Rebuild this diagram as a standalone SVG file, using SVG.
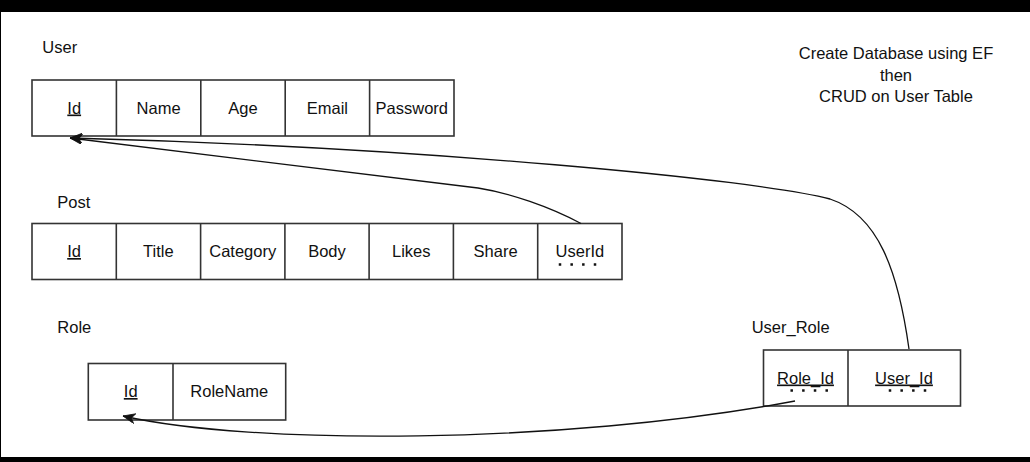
<svg xmlns="http://www.w3.org/2000/svg" width="1030" height="462" viewBox="0 0 1030 462">
<defs>
<style>
text{font-family:"Liberation Sans",Arial,Helvetica,sans-serif;font-size:16.5px;fill:#111;}
.c{text-anchor:middle;}
.u{text-decoration:underline;}
.cell{fill:#fff;stroke:#333;stroke-width:1.6;}
.div{stroke:#333;stroke-width:1.6;}
.edge{fill:none;stroke:#111;stroke-width:1.3;marker-end:url(#arrow);}
.line{fill:none;stroke:#111;stroke-width:1.3;}
.dots{stroke:#111;stroke-width:2.5;stroke-dasharray:2.5 9.17;}
</style>
<marker id="arrow" markerUnits="userSpaceOnUse" markerWidth="14" markerHeight="12" refX="12" refY="5" orient="auto" viewBox="0 0 14 12">
<path d="M0,0 L12,5 L0,10 L3.5,5 Z" fill="#111" stroke="#111" stroke-width="0.8"/>
</marker>
</defs>
<rect x="0" y="0" width="1030" height="462" fill="#fff"/>
<rect x="0" y="0" width="1030" height="12" fill="#000"/>
<rect x="0" y="457" width="1030" height="5" fill="#000"/>
<rect x="0" y="0" width="1" height="462" fill="#000"/>

<g id="user">
<text x="42.3" y="53.3">User</text>
<rect class="cell" x="32" y="80" width="422" height="56"/>
<line class="div" x1="116.4" y1="80" x2="116.4" y2="136"/>
<line class="div" x1="200.8" y1="80" x2="200.8" y2="136"/>
<line class="div" x1="285.2" y1="80" x2="285.2" y2="136"/>
<line class="div" x1="369.6" y1="80" x2="369.6" y2="136"/>
<text class="c u" x="74.2" y="113.5">Id</text>
<text class="c" x="158.6" y="113.5">Name</text>
<text class="c" x="243" y="113.5">Age</text>
<text class="c" x="327.4" y="113.5">Email</text>
<text class="c" x="411.8" y="113.5">Password</text>
</g>

<g id="post">
<text x="57.3" y="207.5">Post</text>
<rect class="cell" x="32" y="223.5" width="590" height="56"/>
<line class="div" x1="116.3" y1="223.5" x2="116.3" y2="279.5"/>
<line class="div" x1="200.6" y1="223.5" x2="200.6" y2="279.5"/>
<line class="div" x1="284.9" y1="223.5" x2="284.9" y2="279.5"/>
<line class="div" x1="369.1" y1="223.5" x2="369.1" y2="279.5"/>
<line class="div" x1="453.4" y1="223.5" x2="453.4" y2="279.5"/>
<line class="div" x1="537.7" y1="223.5" x2="537.7" y2="279.5"/>
<text class="c u" x="74.1" y="257">Id</text>
<text class="c" x="158.4" y="257">Title</text>
<text class="c" x="242.7" y="257">Category</text>
<text class="c" x="327" y="257">Body</text>
<text class="c" x="411.3" y="257">Likes</text>
<text class="c" x="495.6" y="257">Share</text>
<text class="c" x="579.9" y="257">UserId</text>
<line class="dots" x1="558.75" y1="264.5" x2="596.3" y2="264.5"/>
</g>

<g id="role">
<text x="57.3" y="332.7">Role</text>
<rect class="cell" x="88.3" y="363.5" width="197.4" height="56.5"/>
<line class="div" x1="173" y1="363.5" x2="173" y2="420"/>
<text class="c u" x="130.7" y="397">Id</text>
<text class="c" x="229.3" y="397">RoleName</text>
</g>

<g id="user_role">
<text x="751.7" y="332.5">User_Role</text>
<rect class="cell" x="763.5" y="350" width="197" height="56"/>
<line class="div" x1="848" y1="350" x2="848" y2="406"/>
<text class="c u" x="805.5" y="383.5">Role_Id</text>
<text class="c u" x="904" y="383.5">User_Id</text>
<line class="dots" x1="790.45" y1="390.5" x2="828" y2="390.5"/>
<line class="dots" x1="888.75" y1="390.5" x2="926.3" y2="390.5"/>
</g>

<g id="note">
<text class="c" x="896" y="58.5">Create Database using EF</text>
<text class="c" x="896" y="80.5">then</text>
<text class="c" x="896" y="101.5">CRUD on User Table</text>
</g>

<g id="connectors">
<path class="edge" d="M581,223.5 C550,207 510,193 478,188 L70,138"/>
<path class="edge" d="M909,349 C898,270 878,215 830,199 C760,180 420,147 70,138"/>
<path class="edge" d="M795,401 C560,445 250,445 123,416"/>
</g>
</svg>
